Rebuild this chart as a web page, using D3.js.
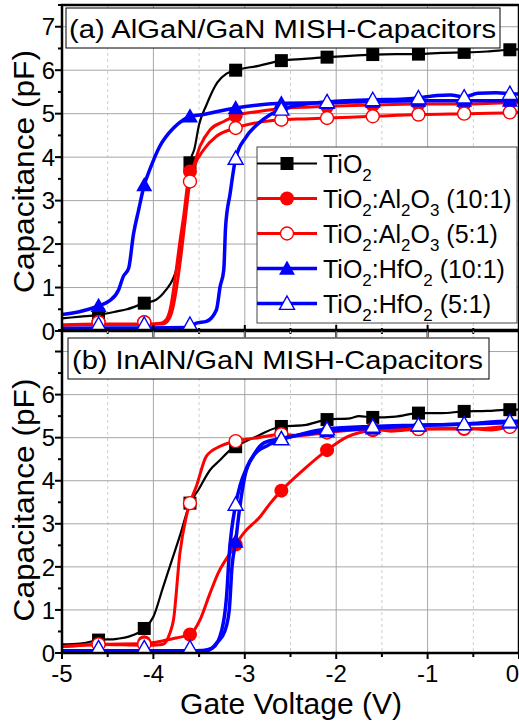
<!DOCTYPE html>
<html><head><meta charset="utf-8">
<script src="https://cdn.jsdelivr.net/npm/d3@7/dist/d3.min.js"></script>
<style>body{margin:0;background:#fff}svg{display:block}text{font-family:"Liberation Sans",Arial,sans-serif;fill:#000}</style>
</head><body><svg id="c" width="519" height="728"></svg>
<script>
// ---------- DATA ----------
const markerX = [-4.6,-4.1,-3.6,-3.1,-2.6,-2.1,-1.6,-1.1,-0.6,-0.1];
const xTicks = [-5,-4,-3,-2,-1,0];
const xMinor = [-4.5,-3.5,-2.5,-1.5,-0.5];
const yTicksA = [0,1,2,3,4,5,6,7];
const yTicksB = [0,1,2,3,4,5,6];
const seriesNames = ["TiO2","TiO2:Al2O3 (10:1)","TiO2:Al2O3 (5:1)","TiO2:HfO2 (10:1)","TiO2:HfO2 (5:1)"];
const titleA = "(a) AlGaN/GaN MISH-Capacitors";
const titleB = "(b) InAlN/GaN MISH-Capacitors";
const xLabel = "Gate Voltage (V)";
const yLabel = "Capacitance (pF)";
// legend label parts: [text, isSubscript]
const legendParts = [
  [["TiO",0],["2",1]],
  [["TiO",0],["2",1],[":Al",0],["2",1],["O",0],["3",1],[" (10:1)",0]],
  [["TiO",0],["2",1],[":Al",0],["2",1],["O",0],["3",1],[" (5:1)",0]],
  [["TiO",0],["2",1],[":HfO",0],["2",1],[" (10:1)",0]],
  [["TiO",0],["2",1],[":HfO",0],["2",1],[" (5:1)",0]]
];

// Panel (a) AlGaN/GaN
const aTiO2X = [-5,-4.8,-4.6,-4.4,-4.29,-4.1,-3.97,-3.86,-3.79,-3.75,-3.69,-3.64,-3.6,-3.55,-3.5,-3.42,-3.3,-3.2,-3.1,-2.85,-2.6,-2.35,-2.1,-1.85,-1.6,-1.35,-1.1,-0.85,-0.6,-0.35,-0.1,0];
const aTiO2Y = [0.29,0.33,0.37,0.45,0.5,0.64,0.72,0.95,1.18,1.41,2.1,2.9,3.87,4.2,4.75,5.2,5.72,5.92,6.0,6.1,6.22,6.26,6.3,6.33,6.36,6.37,6.37,6.4,6.41,6.43,6.47,6.48];
const aTiO2M = [0.37,0.64,3.87,6.0,6.22,6.3,6.36,6.37,6.41,6.47];

const aAl10X = [-5,-4.6,-4.1,-3.92,-3.86,-3.81,-3.78,-3.75,-3.72,-3.67,-3.6,-3.58,-3.49,-3.38,-3.23,-3.1,-2.85,-2.6,-2.1,-1.6,-1.1,-0.6,-0.1,0];
const aAl10Y = [0.14,0.16,0.16,0.18,0.26,0.56,0.95,1.41,1.9,2.63,3.67,3.71,4.25,4.63,4.82,4.95,5.05,5.12,5.17,5.2,5.22,5.22,5.25,5.25];
const aAl10M = [0.2,0.2,3.67,4.95,5.12,5.17,5.2,5.22,5.22,5.25];

const aAl5X = [-5,-4.6,-4.1,-3.9,-3.84,-3.79,-3.75,-3.7,-3.65,-3.6,-3.55,-3.45,-3.31,-3.1,-2.85,-2.6,-2.35,-2.1,-1.6,-1.1,-0.6,-0.1,0];
const aAl5Y = [0.13,0.15,0.15,0.16,0.24,0.5,0.95,1.7,2.6,3.44,3.8,4.17,4.48,4.67,4.8,4.86,4.88,4.9,4.94,4.98,5.0,5.02,5.03];
const aAl5M = [0.2,0.2,3.44,4.67,4.86,4.9,4.94,4.98,5.0,5.03];

const aHf10X = [-5,-4.8,-4.6,-4.49,-4.38,-4.33,-4.27,-4.22,-4.16,-4.1,-4.04,-3.93,-3.78,-3.67,-3.6,-3.45,-3.3,-3.1,-2.85,-2.6,-2.1,-1.6,-1.1,-0.6,-0.1,0];
const aHf10Y = [0.38,0.45,0.58,0.68,0.95,1.25,1.45,2.2,2.8,3.36,3.71,4.25,4.67,4.86,4.94,4.98,5.05,5.13,5.2,5.24,5.25,5.28,5.3,5.3,5.3,5.3];
const aHf10M = [0.58,3.36,4.94,5.13,5.24,5.25,5.28,5.3,5.3,5.3];

const aHf5X = [-5,-4.6,-4.1,-3.6,-3.53,-3.42,-3.31,-3.27,-3.23,-3.21,-3.16,-3.1,-2.99,-2.88,-2.72,-2.6,-2.4,-2.1,-1.6,-1.3,-1.1,-0.9,-0.75,-0.6,-0.45,-0.25,-0.1,0];
const aHf5Y = [0.06,0.07,0.07,0.08,0.18,0.22,0.49,1.02,1.41,2.4,3.17,3.97,4.45,4.72,4.98,5.1,5.2,5.27,5.32,5.33,5.36,5.42,5.43,5.38,5.47,5.48,5.46,5.45];
const aHf5M = [0.15,0.15,0.15,3.97,5.1,5.27,5.32,5.36,5.38,5.46];

// Panel (b) InAlN/GaN
const bTiO2X = [-5,-4.8,-4.6,-4.4,-4.27,-4.1,-4.0,-3.9,-3.8,-3.7,-3.6,-3.51,-3.38,-3.27,-3.16,-3.1,-2.85,-2.6,-2.35,-2.1,-1.85,-1.75,-1.6,-1.35,-1.1,-0.85,-0.6,-0.35,-0.1,0];
const bTiO2Y = [0.2,0.22,0.3,0.33,0.38,0.57,0.84,1.49,2.14,2.79,3.48,3.78,4.25,4.48,4.71,4.79,5.05,5.26,5.29,5.42,5.45,5.5,5.47,5.49,5.57,5.57,5.61,5.62,5.65,5.65];
const bTiO2M = [0.3,0.57,3.48,4.79,5.26,5.42,5.47,5.57,5.61,5.65];

const bAl10X = [-5,-4.6,-4.1,-3.9,-3.75,-3.6,-3.49,-3.38,-3.29,-3.16,-3.1,-3.01,-2.83,-2.72,-2.6,-2.36,-2.1,-1.88,-1.74,-1.6,-1.1,-0.6,-0.1,0];
const bAl10Y = [0.15,0.2,0.22,0.28,0.35,0.43,0.77,1.39,1.86,2.32,2.52,2.79,3.17,3.48,3.77,4.25,4.71,5.02,5.12,5.17,5.2,5.2,5.27,5.3];
const bAl10M = [0.2,0.25,0.43,2.52,3.77,4.71,5.17,5.2,5.2,5.27];

const bAl5X = [-5,-4.6,-4.1,-3.9,-3.82,-3.78,-3.71,-3.64,-3.6,-3.53,-3.42,-3.27,-3.1,-2.85,-2.6,-2.4,-2.1,-1.6,-1.4,-1.1,-0.6,-0.3,-0.1,0];
const bAl5Y = [0.15,0.2,0.18,0.2,0.46,0.77,2.32,3.17,3.48,3.87,4.57,4.8,4.92,5.0,5.08,5.05,5.12,5.2,5.15,5.2,5.22,5.18,5.25,5.27];
const bAl5M = [0.2,0.2,3.48,4.92,5.08,5.12,5.2,5.2,5.22,5.25];

const bHf10X = [-5,-4.6,-4.1,-3.6,-3.4,-3.3,-3.22,-3.17,-3.14,-3.1,-3.06,-3.0,-2.9,-2.79,-2.6,-2.35,-2.1,-1.6,-1.1,-0.6,-0.1,0];
const bHf10Y = [0.05,0.05,0.05,0.05,0.06,0.25,0.5,1.0,2.0,2.59,3.3,4.1,4.6,4.88,4.98,5.08,5.15,5.22,5.28,5.32,5.35,5.36];
const bHf10M = [0.1,0.1,0.1,2.59,4.98,5.15,5.22,5.28,5.32,5.35];

const bHf5X = [-5,-4.6,-4.1,-3.6,-3.45,-3.35,-3.25,-3.2,-3.17,-3.1,-3.05,-2.98,-2.9,-2.75,-2.6,-2.35,-2.1,-1.6,-1.1,-0.6,-0.1,0];
const bHf5Y = [0.05,0.05,0.05,0.05,0.06,0.12,0.55,1.3,2.3,3.45,3.9,4.3,4.6,4.82,4.95,5.1,5.2,5.26,5.29,5.32,5.38,5.38];
const bHf5M = [0.12,0.12,0.12,3.45,4.97,5.2,5.26,5.29,5.32,5.38];

// ---------- STYLE ----------
const styles = [
  {color:"#000000", marker:"square",   filled:true,  lw:2.2},
  {color:"#ff0000", marker:"circle",   filled:true,  lw:3},
  {color:"#ff0000", marker:"circle",   filled:false, lw:3},
  {color:"#0000ff", marker:"triangle", filled:true,  lw:3.5},
  {color:"#0000ff", marker:"triangle", filled:false, lw:3.5}
];
const zip = (X,Y) => X.map((v,i)=>[v,Y[i]]);
const panelData = [
  [[aTiO2X,aTiO2Y,aTiO2M],[aAl10X,aAl10Y,aAl10M],[aAl5X,aAl5Y,aAl5M],[aHf10X,aHf10Y,aHf10M],[aHf5X,aHf5Y,aHf5M]],
  [[bTiO2X,bTiO2Y,bTiO2M],[bAl10X,bAl10Y,bAl10M],[bAl5X,bAl5Y,bAl5M],[bHf10X,bHf10Y,bHf10M],[bHf5X,bHf5Y,bHf5M]]
];

const svg = d3.select("#c");
const L = 62, R = 519;
const x = d3.scaleLinear().domain([-5,0]).range([L,R]);
const panels = [
  {y:d3.scaleLinear().domain([0,7.5]).range([331,5]), top:5, bot:331, labels:yTicksA,
   title:titleA, box:[66,8,434,40], tx:69, ty:37.5, tl:427, ylabY:171.5},
  {y:d3.scaleLinear().domain([0,7.5]).range([653,330]), top:330, bot:653, labels:yTicksB,
   title:titleB, box:[68,338,421,41], tx:72, ty:369, tl:411, ylabY:500}
];

function drawMarker(g, cx, cy, st){
  const fill = st.filled ? st.color : "#fff";
  const sw = st.filled ? 0 : 1.4;
  if(st.marker==="square"){
    g.append("rect").attr("x",cx-6.5).attr("y",cy-6.5).attr("width",13).attr("height",13)
      .attr("fill",fill).attr("stroke",st.color).attr("stroke-width",sw);
  } else if(st.marker==="circle"){
    g.append("circle").attr("cx",cx).attr("cy",cy).attr("r",st.filled?7:6.5)
      .attr("fill",fill).attr("stroke",st.color).attr("stroke-width",sw);
  } else {
    const h = st.filled?8:7.5;
    g.append("path").attr("d",`M${cx},${cy-h}L${cx+h},${cy+h*0.78}L${cx-h},${cy+h*0.78}Z`)
      .attr("fill",fill).attr("stroke",st.color).attr("stroke-width",sw).attr("stroke-linejoin","miter");
  }
}

panels.forEach((p,pi)=>{
  const y = p.y;
  const g = svg.append("g");
  const cid = "clip"+pi;
  svg.append("clipPath").attr("id",cid).append("rect")
    .attr("x",L).attr("y",p.top).attr("width",R-L).attr("height",p.bot-p.top);
  // grid
  const grid = g.append("g");
  xMinor.forEach(v=>grid.append("line").attr("x1",x(v)).attr("x2",x(v)).attr("y1",p.top).attr("y2",p.bot)
    .attr("stroke","#cfcfcf").attr("stroke-width",1).attr("stroke-dasharray","3,3"));
  xTicks.slice(1,-1).forEach(v=>grid.append("line").attr("x1",x(v)).attr("x2",x(v)).attr("y1",p.top).attr("y2",p.bot)
    .attr("stroke","#a6a6a6").attr("stroke-width",1));
  [1,2,3,4,5,6,7].forEach(v=>grid.append("line").attr("x1",L).attr("x2",R).attr("y1",y(v)).attr("y2",y(v))
    .attr("stroke","#a6a6a6").attr("stroke-width",1));
  // series
  const sg = g.append("g").attr("clip-path",`url(#${cid})`);
  const line = d3.line().x(d=>x(d[0])).y(d=>y(d[1])).curve(d3.curveMonotoneX);
  panelData[pi].forEach((s,si)=>{
    const st = styles[si];
    sg.append("path").attr("d",line(zip(s[0],s[1]))).attr("fill","none")
      .attr("stroke",st.color).attr("stroke-width",st.lw).attr("stroke-linejoin","round").attr("stroke-linecap","round");
    const mg = sg.append("g");
    markerX.forEach((mx,i)=>drawMarker(mg, x(mx), y(s[2][i]), st));
  });
  // frame
  g.append("rect").attr("x",L).attr("y",p.top).attr("width",R-L).attr("height",p.bot-p.top)
    .attr("fill","none").attr("stroke","#000").attr("stroke-width",2.5);
  // y ticks
  const ax = g.append("g");
  d3.range(0,7.51,0.5).forEach(v=>{
    const major = Math.abs(v-Math.round(v))<1e-6;
    ax.append("line").attr("x1",L-(major?7:4)).attr("x2",L).attr("y1",y(v)).attr("y2",y(v))
      .attr("stroke","#000").attr("stroke-width",2);
  });
  p.labels.forEach(v=>ax.append("text").attr("x",55).attr("y",y(v)).attr("dy","0.36em")
    .attr("text-anchor","end").attr("font-size",24).text(v));
  // x ticks
  d3.range(-5,0.01,0.5).forEach(v=>{
    const major = Math.abs(v-Math.round(v))<1e-6;
    if(pi===0){
      ax.append("line").attr("x1",x(v)).attr("x2",x(v)).attr("y1",p.bot-(major?6:3)).attr("y2",p.bot+(major?6:3))
        .attr("stroke","#000").attr("stroke-width",2);
    } else {
      ax.append("line").attr("x1",x(v)).attr("x2",x(v)).attr("y1",p.bot).attr("y2",p.bot+(major?6:4))
        .attr("stroke","#000").attr("stroke-width",2);
    }
  });
  if(pi===1){
    xTicks.forEach(v=>ax.append("text").attr("x",v===0?R:x(v)).attr("y",681.5)
      .attr("text-anchor",v===0?"end":"middle").attr("font-size",24).text(v));
  }
  // title box
  g.append("rect").attr("x",p.box[0]).attr("y",p.box[1]).attr("width",p.box[2]).attr("height",p.box[3])
    .attr("fill","#fff").attr("stroke","#000").attr("stroke-width",1);
  g.append("text").attr("x",p.tx).attr("y",p.ty).attr("font-size",25)
    .attr("textLength",p.tl).attr("lengthAdjust","spacingAndGlyphs").text(p.title);
  // y label
  g.append("text").attr("transform",`translate(33.5,${p.ylabY}) rotate(-90)`).attr("text-anchor","middle")
    .attr("font-size",29).attr("textLength",243).attr("lengthAdjust","spacingAndGlyphs").text(yLabel);
});

// x label
svg.append("text").attr("x",291).attr("y",714).attr("text-anchor","middle").attr("font-size",30).text(xLabel);

// legend
const lg = svg.append("g");
lg.append("rect").attr("x",257).attr("y",147).attr("width",260).attr("height",176)
  .attr("fill","#fff").attr("stroke","#444").attr("stroke-width",1);
const legY = d3.scaleBand().domain(d3.range(seriesNames.length)).range([146,321]);
seriesNames.forEach((name,i)=>{
  const st = styles[i];
  const cy = legY(i) + legY.bandwidth()/2;
  lg.append("line").attr("x1",257).attr("x2",317).attr("y1",cy).attr("y2",cy)
    .attr("stroke",st.color).attr("stroke-width",st.lw);
  drawMarker(lg, 287, cy, st);
  const t = lg.append("text").attr("x",323).attr("y",cy+9).attr("font-size",25);
  let sub = false;
  legendParts[i].forEach(([s,isSub])=>{
    const ts = t.append("tspan").text(s);
    if(isSub && !sub){ ts.attr("dy",8).attr("font-size",17); sub=true; }
    else if(isSub){ ts.attr("font-size",17); }
    else if(sub){ ts.attr("dy",-8).attr("font-size",25); sub=false; }
  });
});
</script></body></html>
